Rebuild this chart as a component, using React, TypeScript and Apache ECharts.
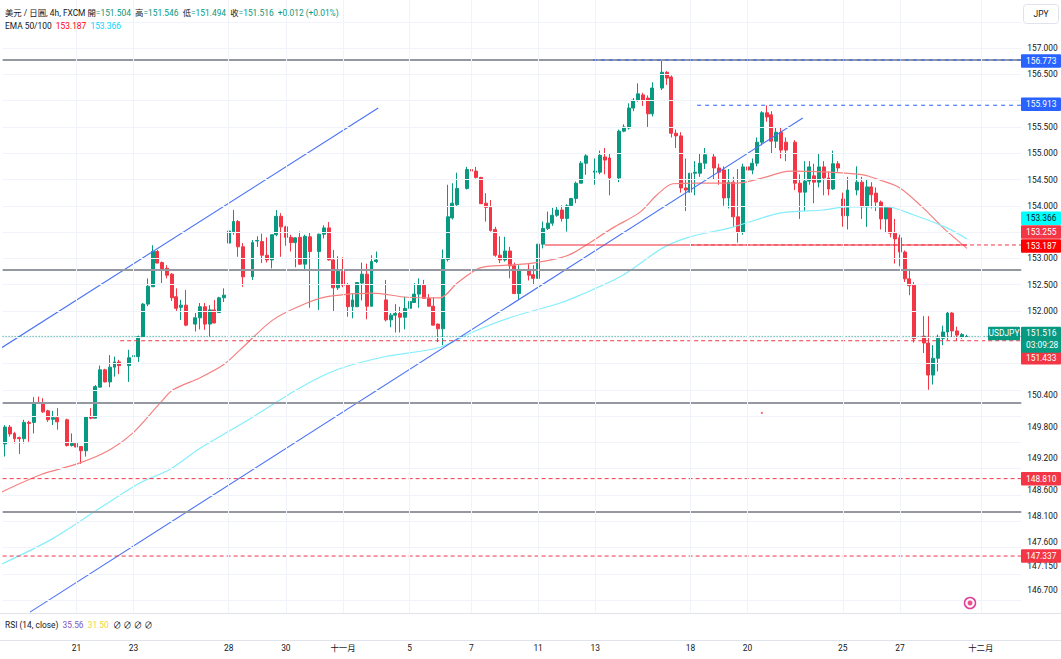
import React, { useEffect, useRef } from "react";
import * as echarts from "echarts";

// ---------- data ----------
const slotCount = 214;
const dateLabelIndex = [15, 27, 47, 59, 71, 85, 98, 112, 124, 144, 156, 176, 188, 205];
const dateLabelText = ["21", "23", "28", "30", "十一月", "5", "7", "11", "13", "18", "20", "25", "27", "十二月"];
const priceTicks = [157, 156.5, 155.5, 155, 154.5, 154, 153, 152.5, 152, 150.4, 149.8, 149.2, 148.6, 148.1, 147.6, 147.15, 146.7];
const gridPrices = [146.5, 147, 147.5, 148, 148.5, 149, 149.5, 150, 150.5, 151, 151.5, 152, 152.5, 153, 153.5, 154, 154.5, 155, 155.5, 156, 156.5, 157, 157.5];

// one entry per 4h bar: [open, high, low, close]; null where the bar could not be read
const ohlc: (number[] | null)[] = [
  [149.47, 149.83, 149.23, 149.79], [149.79, 149.83, 149.61, 149.66], [149.67, 149.70, 149.48, 149.57], [149.59, 149.61, 149.28, 149.57],
  [149.57, 149.93, 149.48, 149.88], [149.88, 149.91, 149.51, 149.86], [149.88, 150.36, 149.67, 150.25], [150.25, 150.37, 150.24, 150.24],
  [150.24, 150.34, 150.06, 150.08], [150.10, 150.12, 149.89, 149.93], [149.94, 150.10, 149.83, 149.97], [149.97, 150.15, 149.74, 149.89],
  null,
  [149.93, 149.95, 149.42, 149.44], [149.44, 149.67, 149.42, 149.48], [149.48, 149.67, 149.36, 149.41], [149.42, 149.43, 149.09, 149.34],
  [149.34, 150.00, 149.23, 149.99], [149.99, 150.15, 149.94, 149.96], [149.96, 150.59, 149.96, 150.56], [150.55, 150.96, 150.55, 150.88],
  [150.88, 150.90, 150.64, 150.65], [150.65, 151.16, 150.55, 150.93], [150.93, 151.13, 150.75, 151.03], [151.03, 151.07, 150.80, 150.96],
  null,
  [150.96, 151.26, 150.65, 151.11], [151.13, 151.21, 150.96, 151.15], [151.13, 151.53, 151.03, 151.51], [151.51, 152.15, 151.51, 152.13],
  [152.13, 152.62, 152.09, 152.47], [152.46, 153.25, 152.46, 153.13], [153.13, 153.16, 152.91, 152.91], [152.92, 152.94, 152.53, 152.80],
  [152.81, 152.87, 152.62, 152.68], [152.70, 152.72, 152.19, 152.25], [152.27, 152.43, 152.00, 152.05], [152.07, 152.21, 151.83, 152.11],
  [152.11, 152.40, 151.71, 151.73],
  null,
  [151.75, 151.96, 151.61, 151.87], [151.87, 152.15, 151.65, 152.08], [152.08, 152.15, 151.64, 151.75],
  [151.75, 152.11, 151.51, 152.02], [152.02, 152.21, 151.77, 151.77], [151.97, 152.27, 151.96, 152.25], [152.25, 152.43, 152.17, 152.30],
  [153.29, 153.54, 152.75, 153.52], [153.51, 153.92, 153.45, 153.70], [153.70, 153.73, 153.03, 153.22],
  [153.22, 153.29, 152.46, 152.65],
  null,
  [152.65, 153.35, 152.59, 153.30], [153.33, 153.42, 153.22, 153.34], [153.32, 153.47, 152.91, 153.06], [153.06, 153.40, 152.92, 152.97],
  [152.97, 153.45, 152.81, 153.45], [153.45, 153.92, 153.42, 153.80], [153.80, 153.86, 153.03, 153.60], [153.60, 153.62, 153.24, 153.40],
  [153.40, 153.45, 153.13, 153.30], [153.30, 153.40, 152.83, 153.39], [153.40, 153.51, 152.88, 152.89], [152.89, 153.45, 152.78, 153.42],
  [153.41, 153.49, 152.06, 153.13],
  null,
  [153.13, 153.47, 152.02, 153.46], [153.46, 153.63, 153.38, 153.58], [153.58, 153.69, 152.96, 152.97],
  [152.97, 153.16, 151.99, 152.44], [152.44, 153.04, 152.40, 152.75], [152.75, 153.02, 152.45, 152.49], [152.50, 152.53, 151.89, 152.08],
  [152.08, 152.34, 151.86, 152.21], [152.08, 152.55, 152.08, 152.54], [152.53, 152.92, 152.20, 152.70], [152.70, 152.90, 151.84, 152.09],
  [152.09, 153.06, 152.08, 152.94], [152.94, 153.13, 152.91, 152.97],
  null,
  [152.21, 152.59, 151.80, 151.83], [151.83, 151.96, 151.69, 151.92],
  [151.92, 152.13, 151.59, 151.95], [151.95, 152.08, 151.59, 151.88], [151.88, 152.27, 151.65, 152.05], [152.05, 152.25, 152.00, 152.18],
  [152.16, 152.53, 152.16, 152.32], [152.32, 152.62, 152.06, 152.49], [152.49, 152.59, 152.24, 152.24], [152.24, 152.32, 152.09, 152.09],
  [152.09, 152.26, 151.73, 151.73], [151.75, 151.76, 151.41, 151.66], [151.66, 153.17, 151.35, 152.98], [152.98, 154.40, 152.94, 153.79],
  [153.77, 154.43, 153.74, 154.05], [154.02, 154.63, 154.00, 154.33],
  null,
  [154.33, 154.74, 154.31, 154.69], [154.69, 154.74, 154.63, 154.66],
  [154.66, 154.74, 154.52, 154.54], [154.54, 154.55, 154.04, 154.04], [154.05, 154.24, 153.70, 153.97], [153.97, 154.11, 153.51, 153.53],
  [153.55, 153.60, 153.03, 153.06], [153.06, 153.42, 152.91, 152.97], [152.97, 153.41, 152.94, 153.14], [153.14, 153.22, 152.62, 152.86],
  [152.86, 152.92, 152.33, 152.33], [152.33, 152.87, 152.21, 152.79],
  null,
  [152.79, 152.89, 152.58, 152.68], [152.69, 152.87, 152.49, 152.62],
  [152.62, 153.27, 152.61, 153.27], [153.27, 153.70, 153.19, 153.57], [153.57, 153.89, 153.54, 153.67], [153.67, 153.96, 153.62, 153.82],
  [153.82, 153.98, 153.79, 153.92], [153.92, 154.01, 153.70, 153.76], [153.76, 154.03, 153.51, 154.00], [154.00, 154.14, 153.98, 154.14],
  [154.14, 154.46, 154.05, 154.43], [154.43, 154.85, 154.43, 154.81], [154.81, 154.98, 154.59, 154.95],
  null,
  [154.64, 154.90, 154.40, 154.66], [154.64, 155.05, 154.60, 154.96], [154.93, 155.10, 154.60, 154.87], [154.91, 155.00, 154.20, 154.53],
  null,
  [154.53, 155.45, 154.45, 155.42], [155.42, 155.55, 155.40, 155.50], [155.48, 155.95, 155.45, 155.86], [155.86, 156.05, 155.80, 156.01],
  [156.01, 156.33, 155.98, 156.13], [156.11, 156.15, 155.90, 156.01], [156.05, 156.10, 155.50, 155.75], [155.75, 156.35, 155.70, 156.24],
  null,
  [156.24, 156.77, 156.20, 156.54], [156.54, 156.56, 156.30, 156.43], [156.45, 156.48, 155.30, 155.38], [155.38, 155.45, 155.10, 155.33],
  [155.33, 155.40, 154.25, 154.34], [154.34, 154.90, 153.90, 154.30], [154.26, 155.10, 154.20, 154.62], [154.62, 154.85, 154.20, 154.64],
  [154.62, 155.00, 154.55, 154.81], [154.81, 155.10, 154.70, 154.97],
  null,
  [154.93, 155.00, 154.50, 154.72], [154.72, 154.80, 154.40, 154.64],
  [154.68, 154.75, 154.00, 154.15], [154.15, 154.70, 153.95, 154.45], [154.45, 154.55, 153.60, 153.79], [153.79, 154.70, 153.30, 153.50],
  [153.50, 154.80, 153.45, 154.74], [154.74, 154.80, 154.60, 154.68], [154.68, 154.90, 154.60, 154.81], [154.81, 155.30, 154.75, 155.21],
  [155.21, 155.80, 155.15, 155.77], [155.77, 155.91, 155.60, 155.69], [155.73, 155.80, 155.00, 155.23], [155.23, 155.50, 155.10, 155.40],
  [155.40, 155.50, 154.90, 155.06], [155.21, 155.30, 154.85, 155.06],
  null,
  [155.21, 155.25, 154.30, 154.43], [154.43, 154.60, 153.75, 154.26],
  [154.26, 154.85, 153.90, 154.47], [154.47, 154.85, 154.40, 154.74], [154.57, 154.80, 154.05, 154.45], [154.45, 155.00, 154.35, 154.74],
  [154.74, 154.85, 154.20, 154.53], [154.53, 154.65, 154.20, 154.32], [154.32, 155.05, 154.30, 154.80], [154.80, 154.85, 154.65, 154.72],
  [154.13, 154.25, 153.60, 153.81], [153.81, 154.55, 153.55, 154.30],
  null,
  [154.30, 154.75, 154.20, 154.45], [154.45, 154.55, 153.75, 153.98],
  [153.98, 154.50, 153.60, 154.36], [154.36, 154.45, 153.95, 154.21], [154.24, 154.35, 153.90, 154.07], [154.07, 154.10, 153.55, 153.75],
  [153.75, 154.00, 153.50, 153.98], [153.98, 154.00, 153.40, 153.48], [153.48, 153.75, 152.90, 153.37], [153.39, 153.45, 152.85, 153.12],
  [153.12, 153.15, 152.55, 152.61], [152.61, 152.80, 152.30, 152.48], [152.49, 152.55, 151.40, 151.47],
  null,
  [151.52, 151.90, 151.20, 151.39],
  [151.39, 151.90, 150.50, 150.78], [150.78, 151.35, 150.60, 151.10], [151.10, 151.55, 150.85, 151.48], [151.48, 151.72, 151.35, 151.60],
  [151.60, 152.00, 151.45, 151.96], [151.96, 151.99, 151.50, 151.62], [151.62, 151.70, 151.43, 151.54], [151.50, 151.58, 151.47, 151.55],
  [151.504, 151.546, 151.494, 151.516],
];

// EMA curves: [bar index, price]
const ema50: number[][] = [
  [-1.05, 148.54], [7.35, 148.88], [15.76, 149.11], [22.06, 149.36], [26.9, 149.68], [32.6, 150.25], [35.3, 150.5], [41.0, 150.73],
  [45.8, 150.97], [49.4, 151.26], [56.3, 151.83], [63.4, 152.15], [68.3, 152.28], [77.3, 152.34], [84.5, 152.26], [91.4, 152.25],
  [95.0, 152.53], [99.8, 152.82], [105.5, 152.87], [110.9, 152.91], [116.6, 153.01], [119.3, 153.1], [127.7, 153.58], [133.4, 153.88],
  [137.0, 154.21], [140.3, 154.42], [145.4, 154.43], [153.8, 154.43], [159.2, 154.53], [164.9, 154.66], [173.3, 154.64], [180.3, 154.59],
  [183.8, 154.49], [188.0, 154.34], [192.9, 153.96], [197.1, 153.58], [202.1, 153.19],
];
const ema100: number[][] = [
  [-1.05, 147.17], [9.45, 147.64], [19.96, 148.25], [28.4, 148.73], [34.7, 148.99], [41.0, 149.39], [51.5, 149.95], [62.0, 150.54],
  [69.7, 150.88], [78.8, 151.11], [91.4, 151.31], [98.3, 151.6], [106.7, 151.89], [116.6, 152.15], [120.8, 152.3], [129.8, 152.68],
  [138.2, 153.2], [143.9, 153.41], [152.3, 153.58], [162.8, 153.86], [171.8, 153.92], [176.9, 153.98], [185.3, 153.98], [190.8, 153.83],
  [197.9, 153.58], [202.1, 153.37],
];

const trendUpper = [[-1.05, 151.28], [78.4, 155.86]];
const trendLower = [[5.25, 146.27], [167.6, 155.67]];
const greyLevels = [156.773, 152.779, 150.249, 148.176];
const redDashLevels = [151.433, 148.81, 147.337];
const redDashStarts = [24.2, -0.5, -0.5];
const blueDashLevels = [156.773, 155.913];
const blueDashStarts = [123.5, 145.4];
const necklinePrice = 153.255;
const necklineSpan = [113.4, 202.1];
const necklineDashStart = 143.9;
const lastPrice = 151.516;
const countdown = "03:09:28";
const legendOHLC = [151.504, 151.546, 151.494, 151.516];
const legendChange = "+0.012 (+0.01%)";
const emaLast = [153.187, 153.366];
const rsiValues = ["35.56", "31.50"];
const strayDot = [[159, 150.06]];

const FONT = "Roboto, 'Noto Sans CJK TC', 'DejaVu Sans', sans-serif";
const FS = 8.4;
const GREEN = "#089981";
const RED = "#f23645";

export default function App() {
  const ref = useRef<HTMLDivElement>(null);
  useEffect(() => {
    document.body.style.margin = "0";
    const chart = echarts.init(ref.current!, null, { renderer: "svg" });
    const X1 = { xAxisIndex: 1, yAxisIndex: 0 };
    const seg = (pts: number[][], color: string, width: number, type: any, z = 4) => ({
      type: "line", ...X1, data: pts, symbol: "none", silent: true, z,
      lineStyle: { color, width, type }, animation: false,
    });
    const END = slotCount - 0.5;
    const labelSet = new Set(dateLabelIndex);
    const series: any[] = [
      {
        type: "line", ...X1, data: [[-0.5, 146.25]], symbol: "none", silent: true, z: 0,
        lineStyle: { opacity: 0 },
        markLine: {
          silent: true, symbol: ["none", "none"], label: { show: false }, animation: false,
          lineStyle: { color: "#f0f3fa", width: 1, type: "solid" },
          data: [...gridPrices.map((p) => ({ yAxis: p })), ...dateLabelIndex.map((i) => ({ xAxis: i }))],
        },
      },
      {
        type: "candlestick", xAxisIndex: 0, yAxisIndex: 0, z: 2, barWidth: 3.4, silent: true,
        data: ohlc.map((d) => (d ? [d[0], d[3], d[2], d[1]] : "-")),
        itemStyle: { color: GREEN, color0: RED, borderColor: GREEN, borderColor0: RED, borderWidth: 1 },
      },
      { type: "line", ...X1, data: ema50, symbol: "none", smooth: 0.3, silent: true, z: 3, lineStyle: { color: "#f58080", width: 1.2 } },
      { type: "line", ...X1, data: ema100, symbol: "none", smooth: 0.3, silent: true, z: 3, lineStyle: { color: "#84eefc", width: 1.2 } },
      seg(trendUpper, "#4a72f5", 1.1, "solid"),
      seg(trendLower, "#4a72f5", 1.1, "solid"),
      ...greyLevels.map((p) => seg([[-0.5, p], [END, p]], "#9598a1", 2, "solid")),
      ...redDashLevels.map((p, k) => seg([[redDashStarts[k], p], [END, p]], RED, 1, [4, 3])),
      ...blueDashLevels.map((p, k) => seg([[blueDashStarts[k], p], [END, p]], "#2962ff", 1, [4, 4], 5)),
      seg([[necklineSpan[0], necklinePrice], [necklineSpan[1], necklinePrice]], "rgba(242,54,69,0.55)", 2, "solid"),
      seg([[necklineDashStart, necklinePrice], [END, necklinePrice]], RED, 1, [4, 3]),
      seg([[-0.5, lastPrice], [END, lastPrice]], GREEN, 1, [1, 2]),
      { type: "scatter", ...X1, data: strayDot, symbolSize: 2, silent: true, itemStyle: { color: RED }, z: 5 },
    ];

    const option: any = {
      animation: false,
      backgroundColor: "#ffffff",
      grid: { left: 2.62, top: 0, width: slotCount * 4.76, height: 613.2, containLabel: false, outerBoundsMode: "none" },
      xAxis: [
        {
          type: "category", gridIndex: 0, boundaryGap: true,
          data: Array.from({ length: slotCount }, (_, i) => String(i)),
          axisLine: { show: false }, axisTick: { show: false }, splitLine: { show: false },
          axisLabel: {
            interval: (i: number) => labelSet.has(i),
            formatter: (_v: string, i: number) => dateLabelText[dateLabelIndex.indexOf(i)] ?? "",
            margin: 31, color: "#131722", fontSize: FS, fontFamily: FONT,
          },
        },
        { type: "value", gridIndex: 0, min: -0.5, max: END, show: false },
      ],
      yAxis: [
        {
          type: "value", gridIndex: 0, position: "right", min: 146.25, max: 157.915, scale: true,
          axisLine: { show: false }, axisTick: { show: false }, splitLine: { show: false },
          axisLabel: {
            customValues: priceTicks, formatter: (v: number) => v.toFixed(3),
            margin: 6, color: "#131722", fontSize: FS, fontFamily: FONT,
          },
        },
      ],
      series,
    };
    chart.setOption(option);

    const yOf = (p: number) => chart.convertToPixel({ yAxisIndex: 0 } as any, p) as number;
    const txt = (x: number, y: number, text: string, fill: string, align = "left") => ({
      type: "text", x, y, silent: true, z: 100,
      style: { text, fill, fontSize: FS, fontFamily: FONT, align, verticalAlign: "middle" },
    });
    const richStyle = {
      d: { fill: "#131722", fontSize: FS, fontFamily: FONT },
      g: { fill: GREEN, fontSize: FS, fontFamily: FONT },
      r: { fill: "#ff0000", fontSize: FS, fontFamily: FONT },
      c: { fill: "#00d8ff", fontSize: FS, fontFamily: FONT },
      p: { fill: "#7e57c2", fontSize: FS, fontFamily: FONT },
      y: { fill: "#f2d43c", fontSize: FS, fontFamily: FONT },
    };
    const names = ["開", "高", "低", "收"];
    const line1 =
      "{d|美元 / 日圓, 4h, FXCM} " +
      legendOHLC.map((v, k) => `{d|${names[k]}}{g|=${v.toFixed(3)}}`).join("  ") +
      `  {g|${legendChange}}`;
    const line2 = `{d|EMA 50/100}  {r|${emaLast[0].toFixed(3)}}  {c|${emaLast[1].toFixed(3)}}`;
    const line3 = `{d|RSI (14, close)}  {p|${rsiValues[0]}}  {y|${rsiValues[1]}}  {d|∅ ∅ ∅ ∅}`;

    const tags = [
      { price: 156.773, bg: "#2962ff", fg: "#ffffff", dy: 1 },
      { price: 155.913, bg: "#2962ff", fg: "#ffffff", dy: -1 },
      { price: emaLast[1], bg: "#00ffff", fg: "#131722", dy: -21 },
      { price: necklinePrice, bg: RED, fg: "#ffffff", dy: -13 },
      { price: emaLast[0], bg: "#ff0000", fg: "#ffffff", dy: -2.5 },
      { price: 151.433, bg: RED, fg: "#ffffff", dy: 17 },
      { price: 148.81, bg: RED, fg: "#ffffff", dy: 0 },
      { price: 147.337, bg: RED, fg: "#ffffff", dy: 0 },
    ];
    const graphics: any[] = [
      { type: "line", silent: true, shape: { x1: 0, y1: 613.5, x2: 1061, y2: 613.5 }, style: { stroke: "#e0e3eb", lineWidth: 1 } },
      { type: "line", silent: true, shape: { x1: 0, y1: 640.5, x2: 1061, y2: 640.5 }, style: { stroke: "#e0e3eb", lineWidth: 1 } },
      { type: "text", x: 5, y: 13, silent: true, z: 100, style: { text: line1, rich: richStyle, verticalAlign: "middle", fontSize: FS, fontFamily: FONT } },
      { type: "text", x: 5, y: 26, silent: true, z: 100, style: { text: line2, rich: richStyle, verticalAlign: "middle", fontSize: FS, fontFamily: FONT } },
      { type: "text", x: 5, y: 625, silent: true, z: 100, style: { text: line3, rich: richStyle, verticalAlign: "middle", fontSize: FS, fontFamily: FONT } },
      { type: "rect", silent: true, z: 100, shape: { x: 1023.5, y: 4.5, width: 35, height: 19, r: 3 }, style: { fill: "#ffffff", stroke: "#e0e3eb", lineWidth: 1 } },
      txt(1041, 14, "JPY", "#131722", "center"),
      { type: "circle", silent: true, z: 100, shape: { cx: 970, cy: 603, r: 5.5 }, style: { fill: "none", stroke: "#e0409a", lineWidth: 1.5 } },
      { type: "circle", silent: true, z: 100, shape: { cx: 970, cy: 603, r: 2.5 }, style: { fill: "#f0508a" } },
    ];
    tags.forEach((t) => {
      const cy = yOf(t.price) + t.dy;
      graphics.push({ type: "rect", silent: true, z: 100, shape: { x: 1021, y: cy - 6.75, width: 40, height: 13.5, r: 1 }, style: { fill: t.bg } });
      graphics.push(txt(1026, cy, t.price.toFixed(3), t.fg));
    });
    const ly = yOf(lastPrice) - 3;
    graphics.push({ type: "rect", silent: true, z: 100, shape: { x: 1021, y: ly - 6.75, width: 40, height: 26, r: 1 }, style: { fill: GREEN } });
    graphics.push(txt(1026, ly, lastPrice.toFixed(3), "#ffffff"));
    graphics.push(txt(1026, ly + 12, countdown, "#ffffff"));
    graphics.push({ type: "rect", silent: true, z: 100, shape: { x: 988, y: ly - 6.75, width: 32, height: 13.5, r: 1 }, style: { fill: GREEN } });
    graphics.push(txt(1004, ly, "USDJPY", "#ffffff", "center"));
    chart.setOption({ graphic: graphics });

    return () => chart.dispose();
  }, []);
  return <div ref={ref} style={{ position: "fixed", left: 0, top: 0, width: 1061, height: 659 }} />;
}
